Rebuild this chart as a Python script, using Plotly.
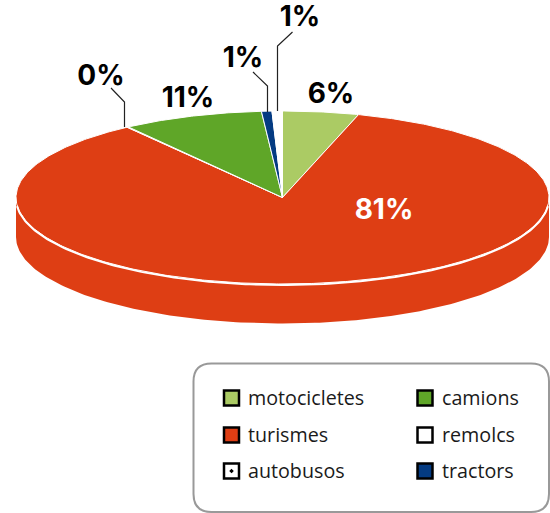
import numpy as np
import plotly.graph_objects as go

# Data, clockwise from 12 o'clock as drawn
slice_names = ["motocicletes", "turismes", "autobusos", "camions", "tractors", "remolcs"]
slice_values = [6.4, 80.9, 0.1, 10.8, 0.9, 0.9]
slice_colors = ["#ABCB64", "#DE3E14", "#FFFFFF", "#5FA628", "#043B82", "#FFFFFF"]
label_colors = ["#000000", "#FFFFFF", "#000000", "#000000", "#000000", "#000000"]
label_x = [331, 384, 101, 188, 243, 300]
label_y = [96, 212, 78, 100, 60, 19]

legend_names = ["motocicletes", "turismes", "autobusos", "camions", "remolcs", "tractors"]
legend_x = [231.5, 231.5, 231.5, 425, 425, 425]
legend_y = [398, 435, 471, 398, 435, 471]

# Pie geometry in page pixels
CX, CY, RX, RY, DEPTH = 282.5, 197.5, 266.5, 86.5, 39.5
FORESHORTEN = 0.7
RED = slice_colors[1]


def project(theta):
    s, c = FORESHORTEN * np.sin(theta), np.cos(theta)
    n = np.hypot(s, c)
    return CX + RX * s / n, CY - RY * c / n


fig = go.Figure()

# Side wall
t = np.radians(np.linspace(90, 270, 181))
xs = CX + RX * np.sin(t)
ys = CY - RY * np.cos(t)
fig.add_trace(go.Scatter(
    x=np.concatenate([xs, xs[::-1]]), y=np.concatenate([ys, ys[::-1] + DEPTH]),
    mode="lines", fill="toself", fillcolor=RED, line=dict(width=0), hoverinfo="skip"))

# Top face wedges
edges = np.cumsum([0] + slice_values) / sum(slice_values) * 2 * np.pi
for i, name in enumerate(slice_names):
    th = np.linspace(edges[i], edges[i + 1], max(3, int(slice_values[i] * 6)))
    x, y = project(th)
    fig.add_trace(go.Scatter(
        x=np.concatenate([[CX], x, [CX]]), y=np.concatenate([[CY], y, [CY]]),
        mode="lines", fill="toself", fillcolor=slice_colors[i],
        line=dict(color="#FFFFFF", width=1), name=name, hoverinfo="name"))

# White rim on the front of the top face
t = np.radians(np.linspace(95, 265, 171))
fig.add_trace(go.Scatter(x=CX + RX * np.sin(t), y=CY - RY * np.cos(t) + 1, mode="lines",
                         line=dict(color="#FFFFFF", width=2), hoverinfo="skip"))

# Leader lines
for lx, ly in [([124.5, 124.5, 111], [127, 102, 88]),
               ([267.5, 267.5, 253], [112, 86, 72]),
               ([277.5, 277.5, 292.5], [111, 46, 32])]:
    fig.add_trace(go.Scatter(x=lx, y=ly, mode="lines", line=dict(color="#222222", width=1.2), hoverinfo="skip"))

# Percent labels
fig.add_trace(go.Scatter(
    x=label_x, y=label_y, mode="text",
    text=[f"{round(v)}%" for v in slice_values],
    textfont=dict(family="Inter", size=28, color=label_colors, weight=700), hoverinfo="skip"))

# Legend
color_of = dict(zip(slice_names, slice_colors))
fig.add_trace(go.Scatter(
    x=legend_x, y=legend_y, mode="markers",
    marker=dict(symbol=["square-dot" if n == "autobusos" else "square" for n in legend_names],
                size=15, color=[color_of[n] for n in legend_names],
                line=dict(color="#000000", width=2.5)),
    hoverinfo="skip"))
for n, x, y in zip(legend_names, legend_x, legend_y):
    fig.add_annotation(x=x + 14.5, y=y - 1, text=n, showarrow=False, xanchor="left", yanchor="middle",
                       font=dict(family="Open Sans", size=19.7, color="#1A1A1A"))

x0, x1, y0, y1, r = 193.5, 549, 363.5, 512, 18
fig.add_shape(type="path", line=dict(color="#999999", width=2), fillcolor="rgba(0,0,0,0)",
              path=f"M{x0+r},{y0} L{x1-r},{y0} Q{x1},{y0} {x1},{y0+r} L{x1},{y1-r} Q{x1},{y1} {x1-r},{y1} "
                   f"L{x0+r},{y1} Q{x0},{y1} {x0},{y1-r} L{x0},{y0+r} Q{x0},{y0} {x0+r},{y0} Z")

fig.update_layout(
    width=550, height=513, margin=dict(l=0, r=0, t=0, b=0), showlegend=False,
    paper_bgcolor="#FFFFFF", plot_bgcolor="#FFFFFF",
    xaxis=dict(range=[0, 550], visible=False, fixedrange=True),
    yaxis=dict(range=[513, 0], visible=False, fixedrange=True),
)
fig.write_html("out.html", config={"displayModeBar": False},
               post_script="document.body.style.margin='0';")
